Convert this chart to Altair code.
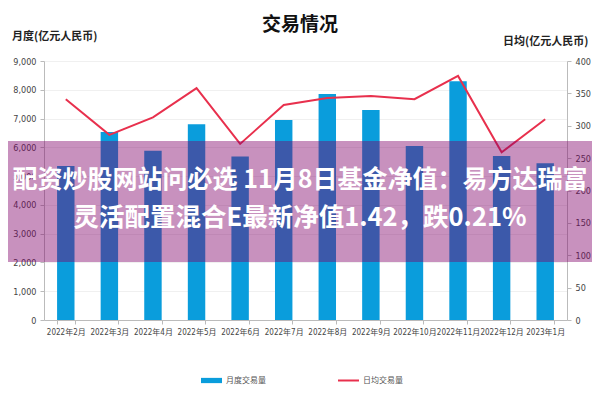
import altair as alt
import pandas as pd

months = ['2022年2月', '2022年3月', '2022年4月', '2022年5月', '2022年6月', '2022年7月',
          '2022年8月', '2022年9月', '2022年10月', '2022年11月', '2022年12月', '2023年1月']
monthly = [5350, 6530, 5880, 6800, 5680, 6950, 7850, 7300, 6050, 8300, 5700, 5450]
daily = [341, 286, 313, 358, 272, 332, 343, 346, 341, 377, 259, 310]

left_ticks = [0, 1000, 2000, 3000, 4000, 5000, 6000, 7000, 8000, 9000]
right_ticks = [0, 50, 100, 150, 200, 250, 300, 350, 400]

chart_title = '交易情况'
left_title = '月度(亿元人民币)'
right_title = '日均(亿元人民币)'
bar_name = '月度交易量'
line_name = '日均交易量'
overlay_lines = ['配资炒股网站问必选 11月8日基金净值：易方达瑞富', '灵活配置混合E最新净值1.42，跌0.21%']

df = pd.DataFrame({'month': months, 'monthly': monthly, 'daily': daily,
                   'bar': bar_name, 'line': line_name})

CJK = 'Noto Sans CJK SC'
NUM = 'Liberation Sans Narrow, DejaVu Sans Condensed, Roboto Condensed, Noto Sans CJK SC'

x_enc = alt.X('month:N', sort=months, title=None,
              scale=alt.Scale(paddingInner=0.6, paddingOuter=0.3),
              axis=alt.Axis(labelAngle=0, tickBand='extent', labelFont=NUM, labelFontSize=8,
                            labelColor='#444', domainColor='#bbb', tickColor='#bbb',
                            tickSize=4, labelPadding=4, grid=False))

base = alt.Chart(df)

bars = base.mark_bar().encode(
    x=x_enc,
    y=alt.Y('monthly:Q', title=None,
            scale=alt.Scale(domain=[0, 9000]),
            axis=alt.Axis(values=left_ticks, format=',.0f', labelFont=NUM, labelFontSize=9,
                          labelColor='#444', domainColor='#bbb', tickColor='#bbb',
                          tickSize=4, labelPadding=4, gridColor='#f0f0f0')),
    color=alt.Color('bar:N', scale=alt.Scale(domain=[bar_name], range=['#0a9ddc']),
                    legend=alt.Legend(title=None, orient='none', legendX=156, legendY=308,
                                      symbolType='M-1,-0.25H1V0.25H-1Z', symbolSize=441,
                                      labelFont=CJK, labelFontSize=8, labelColor='#555',
                                      labelOffset=3, padding=0)),
)

line = base.mark_line(strokeWidth=2).encode(
    x=alt.X('month:N', sort=months),
    y=alt.Y('daily:Q', title=None,
            scale=alt.Scale(domain=[0, 400]),
            axis=alt.Axis(orient='right', values=right_ticks, format='d', labelFont=NUM,
                          labelFontSize=9, labelColor='#444', domainColor='#bbb',
                          tickColor='#bbb', tickSize=4, labelPadding=4, grid=False)),
    stroke=alt.Stroke('line:N', scale=alt.Scale(domain=[line_name], range=['#e8304d']),
                      legend=alt.Legend(title=None, orient='none', legendX=293, legendY=308,
                                        symbolType='stroke', symbolSize=441, symbolStrokeWidth=2,
                                        labelFont=CJK, labelFontSize=8, labelColor='#555',
                                        labelOffset=3, padding=0)),
)

one = pd.DataFrame({'k': [0]})


def label(text, x, y, size, weight='normal', color='#222', align='left'):
    return alt.Chart(pd.DataFrame({'t': [text]})).mark_text(
        font=CJK, fontSize=size, fontWeight=weight, color=color, align=align, baseline='middle'
    ).encode(text='t:N', x=alt.value(x), y=alt.value(y))


overlay = alt.Chart(one).mark_rect(color='#800069', opacity=0.43).encode(
    x=alt.value(-36), x2=alt.value(548), y=alt.value(80), y2=alt.value(201))

layers = [
    label(chart_title, 256, -36, 19, 'bold', '#111', 'center'),
    label(left_title, -32, -24, 11, 'bold', '#222'),
    label(right_title, 459, -19, 11, 'bold', '#222'),
    overlay,
    label(overlay_lines[0], 256, 119, 25, 'bold', 'white', 'center'),
    label(overlay_lines[1], 256, 157, 25.5, 'bold', 'white', 'center'),
]

chart = alt.layer(bars, line, *layers).resolve_scale(y='independent').properties(
    width=523, height=259,
    autosize=alt.AutoSizeParams(type='none'),
    padding={'left': 36, 'top': 53, 'right': 25, 'bottom': 72},
).configure_view(strokeWidth=0)

chart.save('out.html', embed_options={'renderer': 'svg', 'actions': False})
